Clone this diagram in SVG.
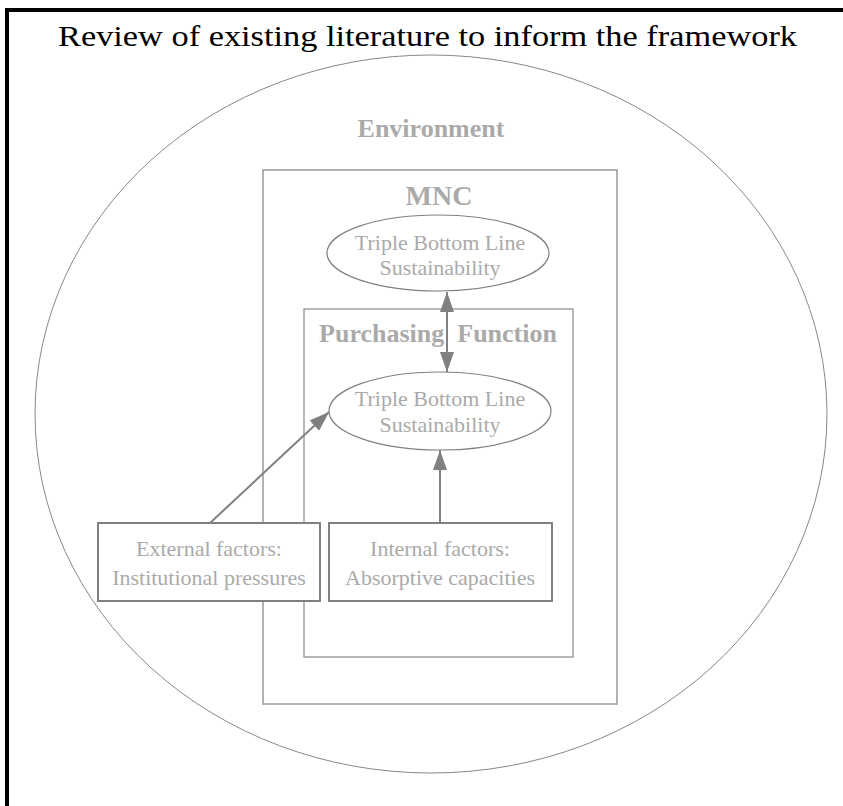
<svg xmlns="http://www.w3.org/2000/svg" width="843" height="806" viewBox="0 0 843 806">
  <style>
    .frame { fill: none; stroke: #000; stroke-width: 4; }
    .env { fill: none; stroke: #888; stroke-width: 1; }
    .scope { fill: none; stroke: #999; stroke-width: 1.5; }
    .oval { fill: #fff; stroke: #808080; stroke-width: 1.2; }
    .box { fill: #fff; stroke: #808080; stroke-width: 2; }
    .title { font-family: "Liberation Serif", "Times New Roman", serif; font-size: 30px; fill: #000; }
    .head { font-family: "Liberation Serif", "Times New Roman", serif; font-weight: bold; fill: #aaa; }
    .label { font-family: "Liberation Serif", "Times New Roman", serif; font-size: 22px; fill: #aaa; }
    .link { stroke: #808080; stroke-width: 2; fill: none; }
  </style>
  <defs>
    <marker id="arrow" markerWidth="20" markerHeight="14" refX="20" refY="7" orient="auto-start-reverse" markerUnits="userSpaceOnUse" viewBox="0 0 20 14">
      <path d="M0,0 L20,7 L0,14 Z" fill="#808080"/>
    </marker>
  </defs>
  <rect width="843" height="806" fill="#fff"/>

  <!-- outer frame: left and top edges -->
  <path class="frame" d="M7,806 V10 H843"/>

  <text class="title" x="427.5" y="46" text-anchor="middle" textLength="739" lengthAdjust="spacingAndGlyphs">Review of existing literature to inform the framework</text>

  <g id="environment">
    <ellipse class="env" cx="431" cy="414" rx="396" ry="359"/>
    <text class="head" x="431" y="137" font-size="26" text-anchor="middle">Environment</text>
  </g>

  <g id="mnc">
    <rect class="scope" x="263" y="170" width="354" height="534"/>
    <text class="head" x="439" y="205" font-size="28" text-anchor="middle">MNC</text>
  </g>

  <g id="purchasing">
    <rect class="scope" x="304" y="309" width="269" height="348" style="stroke:#888;stroke-width:1.2"/>
    <text class="head" x="438" y="342" font-size="26" text-anchor="middle" xml:space="preserve">Purchasing  Function</text>
  </g>

  <g id="tbl-mnc">
    <ellipse class="oval" cx="438" cy="253" rx="111" ry="38"/>
    <text class="label" x="440" y="250" text-anchor="middle">Triple Bottom Line</text>
    <text class="label" x="440" y="275" text-anchor="middle">Sustainability</text>
  </g>

  <g id="tbl-purchasing">
    <ellipse class="oval" cx="440" cy="411" rx="111" ry="39"/>
    <text class="label" x="440" y="406" text-anchor="middle">Triple Bottom Line</text>
    <text class="label" x="440" y="432" text-anchor="middle">Sustainability</text>
  </g>

  <g id="external">
    <rect class="box" x="98" y="523" width="222" height="78"/>
    <text class="label" x="209" y="556" text-anchor="middle">External factors:</text>
    <text class="label" x="209" y="585" text-anchor="middle">Institutional pressures</text>
  </g>

  <g id="internal">
    <rect class="box" x="329" y="523" width="223" height="78"/>
    <text class="label" x="440" y="556" text-anchor="middle">Internal factors:</text>
    <text class="label" x="440" y="585" text-anchor="middle">Absorptive capacities</text>
  </g>

  <g id="connectors">
    <line class="link" x1="447" y1="292" x2="447" y2="372" marker-start="url(#arrow)" marker-end="url(#arrow)"/>
    <line class="link" x1="210" y1="523" x2="329" y2="412" marker-end="url(#arrow)"/>
    <line class="link" x1="440" y1="523" x2="440" y2="450" marker-end="url(#arrow)"/>
  </g>
</svg>
